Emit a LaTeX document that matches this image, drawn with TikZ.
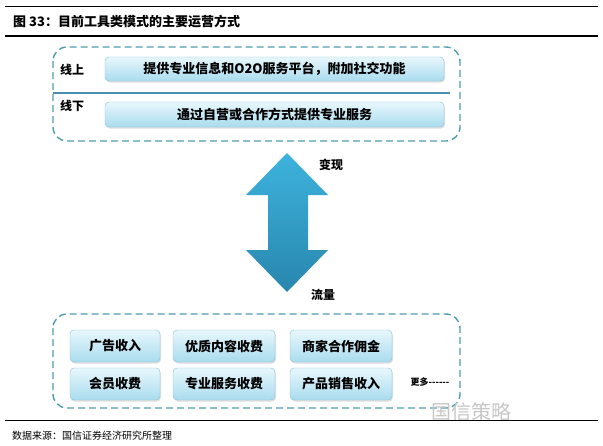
\documentclass[tikz,border=0pt]{standalone}
\usepackage{fontspec}
\setmainfont{Noto Sans CJK SC}
\usetikzlibrary{shadows}
\definecolor{tirets}{HTML}{4E9DAE}
\definecolor{filet}{HTML}{4A8DB5}
\definecolor{bordbleu}{HTML}{86C0D4}
\definecolor{hautbleu}{HTML}{E8F7FC}
\definecolor{basbleu}{HTML}{A9DCEE}
\definecolor{flechehaut}{HTML}{3DB3DD}
\definecolor{flechebas}{HTML}{2886AD}
\begin{document}
\begin{tikzpicture}[x=1pt,y=-1pt,
    cadre/.style={draw=tirets,line width=1.4pt,dash pattern=on 7pt off 4pt,rounded corners=14pt},
    boite/.style={draw=bordbleu,rounded corners=4pt,top color=hautbleu,bottom color=basbleu,
      drop shadow={opacity=0.25,shadow xshift=1pt,shadow yshift=-1.5pt},
      font=\bfseries\fontsize{13}{15}\selectfont,inner sep=0pt},
    etiquette/.style={font=\bfseries\fontsize{12}{14}\selectfont,inner sep=0pt}]
    \useasboundingbox (0,0) rectangle (603,445);

    % Le titre
    \draw[line width=0.6pt] (5,6) -- (598,6);
    \node[anchor=west,inner sep=0pt,font=\bfseries\fontsize{13}{15}\selectfont] (titre) at (13,22) {图 33：目前工具类模式的主要运营方式};
    \draw[line width=1.2pt] (5,36) -- (598,36);

    % Le cadre du haut
    \draw[cadre] (53,47) rectangle (460,141);
    \draw[filet,line width=1.5pt] (53,93) -- (450,93);
    \node[etiquette] (enligne) at (72,70) {线上};
    \node[etiquette] (horsligne) at (72,106) {线下};
    \node[boite,minimum width=339,minimum height=24] (info) at (274.5,69) {提供专业信息和O2O服务平台，附加社交功能};
    \node[boite,minimum width=339,minimum height=25] (service) at (274.5,114.5) {通过自营或合作方式提供专业服务};

    % La fleche
    \shade[top color=flechehaut,bottom color=flechebas]
      (287,153) -- (328,195) -- (308,195) -- (308,250) -- (328,250) -- (287,292)
      -- (246,250) -- (268,250) -- (268,195) -- (246,195) -- cycle;
    \node[etiquette] (monetisation) at (331,165) {变现};
    \node[etiquette] (trafic) at (323,295) {流量};

    % Le cadre du bas
    \draw[cadre] (53,314) rectangle (460,408);
    \node[boite,minimum width=90,minimum height=32] (pub) at (115,346) {广告收入};
    \node[boite,minimum width=102,minimum height=32] (contenu) at (224,346) {优质内容收费};
    \node[boite,minimum width=102,minimum height=32] (commission) at (341,346) {商家合作佣金};
    \node[boite,minimum width=90,minimum height=32] (membre) at (115,384) {会员收费};
    \node[boite,minimum width=102,minimum height=32] (pro) at (224,384) {专业服务收费};
    \node[boite,minimum width=102,minimum height=32] (vente) at (341,384) {产品销售收入};
    \node[font=\bfseries\fontsize{9}{11}\selectfont,inner sep=0pt] (plus) at (430,382) {更多-{}-{}-{}-{}-{}-};

    % La source
    \node[font=\fontsize{20}{22}\selectfont,text=black!22] (filigrane) at (471,412) {国信策略};
    \draw[line width=0.6pt] (5,420) -- (598,420);
    \node[anchor=west,inner sep=0pt,font=\fontsize{10}{12}\selectfont] (source) at (12,436) {数据来源：国信证券经济研究所整理};
\end{tikzpicture}
\end{document}
